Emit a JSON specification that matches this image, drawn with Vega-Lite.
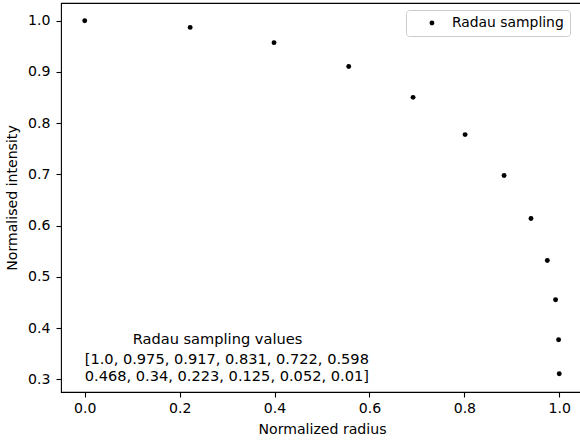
{
  "$schema": "https://vega.github.io/schema/vega-lite/v6.json",
  "width": 522,
  "height": 389,
  "autosize": {"type": "none"},
  "padding": {"left": 61, "top": 3, "right": 0, "bottom": 49},
  "background": "white",
  "config": {
    "font": "DejaVu Sans",
    "view": {"stroke": "black", "strokeWidth": 1.1},
    "axis": {
      "grid": false,
      "domain": false,
      "tickColor": "black",
      "tickSize": 5,
      "tickWidth": 1.1,
      "labelColor": "black",
      "labelFont": "DejaVu Sans",
      "labelFontSize": 14.1,
      "titleFont": "DejaVu Sans",
      "titleFontSize": 14.1,
      "titleFontWeight": "normal",
      "titleColor": "black"
    }
  },
  "layer": [
    {
      "data": {
        "values": [
          {"r": 0.0, "I": 1.0, "series": "Radau sampling"},
          {"r": 0.2222, "I": 0.9869, "series": "Radau sampling"},
          {"r": 0.3989, "I": 0.9571, "series": "Radau sampling"},
          {"r": 0.5563, "I": 0.9107, "series": "Radau sampling"},
          {"r": 0.6919, "I": 0.8504, "series": "Radau sampling"},
          {"r": 0.8015, "I": 0.7777, "series": "Radau sampling"},
          {"r": 0.8837, "I": 0.6978, "series": "Radau sampling"},
          {"r": 0.9404, "I": 0.6139, "series": "Radau sampling"},
          {"r": 0.9748, "I": 0.532, "series": "Radau sampling"},
          {"r": 0.9922, "I": 0.4554, "series": "Radau sampling"},
          {"r": 0.9986, "I": 0.3774, "series": "Radau sampling"},
          {"r": 0.99995, "I": 0.3111, "series": "Radau sampling"}
        ]
      },
      "mark": {"type": "point", "filled": true, "shape": "circle", "size": 24, "opacity": 1},
      "encoding": {
        "x": {
          "field": "r", "type": "quantitative",
          "scale": {"domain": [-0.05, 1.05], "nice": false, "zero": false},
          "axis": {"values": [0, 0.2, 0.4, 0.6, 0.8, 1.0], "format": ".1f", "labelPadding": 4, "title": "Normalized radius", "titlePadding": 7}
        },
        "y": {
          "field": "I", "type": "quantitative",
          "scale": {"domain": [0.2755, 1.0345], "nice": false, "zero": false},
          "axis": {"values": [0.3, 0.4, 0.5, 0.6, 0.7, 0.8, 0.9, 1.0], "format": ".1f", "labelPadding": 6, "title": "Normalised intensity", "titlePadding": 8}
        },
        "color": {
          "field": "series", "type": "nominal",
          "scale": {"range": ["black"]},
          "legend": {
            "title": null,
            "orient": "none",
            "legendX": 345,
            "legendY": 7,
            "direction": "vertical",
            "fillColor": "white",
            "strokeColor": "#cccccc",
            "cornerRadius": 3,
            "padding": 6,
            "symbolType": "circle",
            "symbolSize": 24,
            "symbolOffset": 13,
            "symbolStrokeWidth": 0,
            "labelOffset": 13,
            "labelFontSize": 13.9,
            "labelFont": "DejaVu Sans",
            "labelColor": "black"
          }
        }
      }
    },
    {
      "data": {"values": [{}]},
      "mark": {"type": "text", "text": "Radau sampling values", "align": "left", "baseline": "middle", "fontSize": 14.6, "font": "DejaVu Sans", "color": "black"},
      "encoding": {"x": {"datum": 0.101}, "y": {"datum": 0.376}}
    },
    {
      "data": {"values": [{}]},
      "mark": {"type": "text", "text": ["[1.0, 0.975, 0.917, 0.831, 0.722, 0.598", "0.468, 0.34, 0.223, 0.125, 0.052, 0.01]"], "align": "left", "baseline": "middle", "lineHeight": 16.5, "fontSize": 14.6, "font": "DejaVu Sans", "color": "black"},
      "encoding": {"x": {"datum": 0.0}, "y": {"datum": 0.3374}}
    }
  ]
}
